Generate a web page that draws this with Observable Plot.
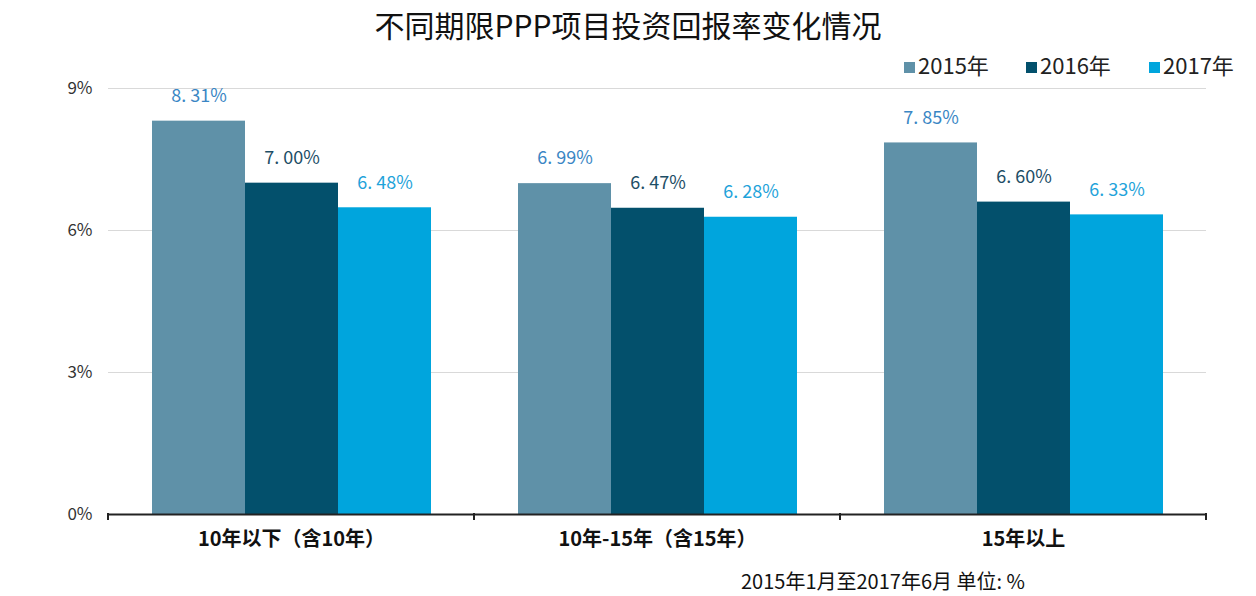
<!DOCTYPE html>
<html>
<head>
<meta charset="utf-8">
<script src="https://cdn.jsdelivr.net/npm/d3@7"></script>
<script src="https://cdn.jsdelivr.net/npm/@observablehq/plot@0.6"></script>
<style>
  html, body { margin: 0; padding: 0; background: #ffffff; }
  body { font-family: "Noto Sans CJK SC", "Noto Sans", sans-serif; }
  #wrap { position: relative; width: 1256px; height: 596px; overflow: hidden; background: #fff; }
  #chart { position: absolute; left: 0; top: 0; }
  #title { position: absolute; left: 0; width: 1256px; top: 4px; text-align: center; font-size: 30px; color: #111; letter-spacing: 0px; line-height: 40px; }
  #legend { position: absolute; top: 49px; left: 904px; font-size: 22px; color: #222; line-height: 30px; white-space: nowrap; }
  .li { position: absolute; top: 0; }
  .sw { display: inline-block; width: 11px; height: 11px; margin-right: 3px; vertical-align: 1px; }
  #caption { position: absolute; top: 567px; left: 741px; font-size: 20px; color: #111; line-height: 28px; white-space: nowrap; }
</style>
</head>
<body>
<div id="wrap">
  <div id="chart"></div>
  <div id="title"></div>
  <div id="legend"></div>
  <div id="caption"></div>
</div>
<script>
// ---- data ----
const titleText = "不同期限PPP项目投资回报率变化情况";
const captionText = "2015年1月至2017年6月 单位: %";
const categories = ["10年以下（含10年）", "10年-15年（含15年）", "15年以上"];
const years = ["2015年", "2016年", "2017年"];
const values2015 = [8.31, 6.99, 7.85];
const values2016 = [7.00, 6.47, 6.60];
const values2017 = [6.48, 6.28, 6.33];
const yTicks = [0, 3, 6, 9];
const barColors = ["#5f91a8", "#03506c", "#00a5dd"];
const labelColors = ["#3a86c4", "#1d4e66", "#1fa3da"];

const seriesValues = [values2015, values2016, values2017];
const data = [];
categories.forEach((c, i) => {
  years.forEach((yr, j) => data.push({cat: c, year: yr, value: seriesValues[j][i]}));
});
const fmt = v => v.toFixed(2).replace(".", ". ") + "%";

const chart = Plot.plot({
  width: 1256,
  height: 596,
  marginTop: 88,
  marginBottom: 82,
  marginLeft: 108,
  marginRight: 50,
  style: {fontFamily: "'Noto Sans CJK SC', 'Noto Sans', sans-serif", background: "transparent"},
  fx: {domain: categories, padding: 0, label: null},
  x: {domain: years, paddingInner: 0, paddingOuter: 0.447, axis: null},
  y: {domain: [0, 9], label: null},
  color: {domain: years, range: barColors},
  marks: [
    Plot.gridY(yTicks, {stroke: "#d9d9d9", strokeOpacity: 1, strokeWidth: 1.2}),
    Plot.axisY(yTicks, {tickSize: 0, tickPadding: 16, tickFormat: d => d + "%", fontSize: 17, fill: "#333", label: null}),
    Plot.axisFx({anchor: "bottom", tickSize: 0, tickPadding: 17, fontSize: 20, fontWeight: "bold", fill: "#111", label: null}),
    Plot.barY(data, {fx: "cat", x: "year", y: "value", fill: "year"}),
    ...years.map((yr, j) => Plot.text(data.filter(d => d.year === yr), {
      fx: "cat", x: "year", y: "value", text: d => fmt(d.value),
      dy: -25, fontSize: 18, fill: labelColors[j]
    })),
    Plot.ruleY([0], {stroke: "#222", strokeWidth: 2})
  ]
});
document.getElementById("chart").appendChild(chart);

// boundary ticks on the category axis, from the fx scale
const fxs = chart.scale("fx");
const yScale = chart.scale("y");
const y0 = yScale.apply(0);
const step = fxs.step;
const start = fxs.range[0];
const svg = d3.select(chart);
const gT = svg.append("g").attr("stroke", "#222").attr("stroke-width", 2);
for (let i = 0; i <= categories.length; i++) {
  const x = start + i * step;
  gT.append("line").attr("x1", x).attr("x2", x).attr("y1", y0 - 1).attr("y2", y0 + 6);
}

// title, legend, caption
document.getElementById("title").textContent = titleText;
document.getElementById("caption").textContent = captionText;
const legendOffsets = [0, 122, 245];
const legend = d3.select("#legend");
years.forEach((yr, j) => {
  const item = legend.append("div").attr("class", "li").style("left", legendOffsets[j] + "px");
  item.append("span").attr("class", "sw").style("background", barColors[j]);
  item.append("span").text(yr);
});
</script>
</body>
</html>
